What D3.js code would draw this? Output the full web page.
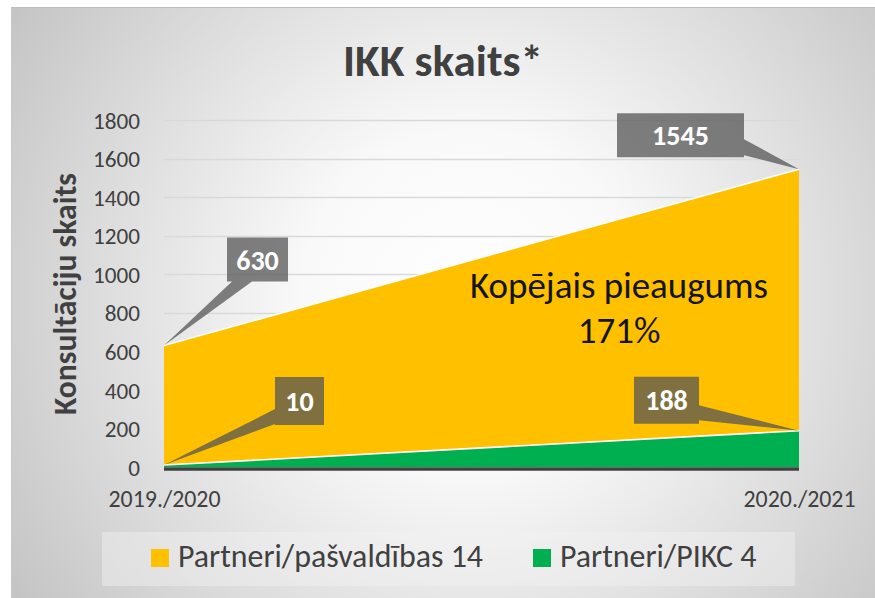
<!DOCTYPE html>
<html>
<head>
<meta charset="utf-8">
<script src="https://cdn.jsdelivr.net/npm/d3@7/dist/d3.min.js"></script>
<style>
  html, body { margin: 0; padding: 0; background: #fff; }
  text { font-family: Carlito, Calibri, Lato, "Open Sans", sans-serif; }
</style>
</head>
<body>
<div id="chart"></div>
<script>
// data
var categories = ["2019./2020", "2020./2021"];
var seriesNames = ["Partneri/pašvaldības 14", "Partneri/PIKC 4"];
var pasvaldibas = [630, 1545];
var pikc = [10, 188];
var yTicks = [0, 200, 400, 600, 800, 1000, 1200, 1400, 1600, 1800];
var chartTitle = "IKK skaits*";
var yTitle = "Konsultāciju skaits";
var noteLines = ["Kopējais pieaugums", "171%"];

var width = 875, height = 598;
var colors = ["#FFC000", "#00B050"];
var fontStack = "Carlito, Calibri, Lato, sans-serif";

var svg = d3.select("#chart").append("svg")
    .attr("width", width)
    .attr("height", height);

// background panel with a soft radial shade
var defs = svg.append("defs");
var grad = defs.append("radialGradient")
    .attr("id", "bg")
    .attr("gradientUnits", "userSpaceOnUse")
    .attr("cx", 470).attr("cy", 300).attr("r", 560);
grad.append("stop").attr("offset", "0%").attr("stop-color", "#ffffff");
grad.append("stop").attr("offset", "30%").attr("stop-color", "#f9f9f9");
grad.append("stop").attr("offset", "100%").attr("stop-color", "#c2c2c2");

svg.append("rect")
    .attr("x", 11).attr("y", 7)
    .attr("width", width - 11).attr("height", height - 7)
    .attr("fill", "url(#bg)");
svg.append("line")
    .attr("x1", 11).attr("x2", width).attr("y1", 7.5).attr("y2", 7.5)
    .attr("stroke", "#bdbdbd");
svg.append("line")
    .attr("x1", 11.5).attr("x2", 11.5).attr("y1", 7).attr("y2", height)
    .attr("stroke", "#c8c8c8");

// shrink or grow a text so that it spans a given width
function fit(sel, w) {
  var size = parseFloat(sel.attr("font-size"));
  var len = sel.node().getComputedTextLength();
  sel.attr("font-size", (size * w / len).toFixed(2) + "px");
  return sel.attr("font-size");
}

var x = d3.scalePoint().domain(categories).range([164, 799]);
var y = d3.scaleLinear().domain([0, 1800]).range([467, 120]);

// title
fit(svg.append("text")
    .attr("x", 443).attr("y", 76)
    .attr("text-anchor", "middle")
    .attr("font-size", "44px")
    .attr("font-weight", "bold")
    .attr("fill", "#404040")
    .text(chartTitle), 200);

// grid
svg.append("g").selectAll("line")
  .data(yTicks.slice(1))
  .enter().append("line")
    .attr("x1", x.range()[0]).attr("x2", x.range()[1])
    .attr("y1", function(d) { return Math.round(y(d)) + 0.5; })
    .attr("y2", function(d) { return Math.round(y(d)) + 0.5; })
    .attr("stroke", "#d9d9d9")
    .attr("stroke-width", 1.3);

// y axis labels
var yAxis = d3.axisLeft(y).tickValues(yTicks).tickFormat(d3.format("d")).tickSize(0).tickPadding(0);
var gy = svg.append("g")
    .attr("transform", "translate(140,0)")
    .call(yAxis);
gy.select(".domain").remove();
gy.selectAll("text")
    .attr("font-size", "23px")
    .attr("fill", "#404040")
    .attr("font-family", fontStack)
    .attr("dy", "0.35em");
var tickSize = fit(gy.selectAll("text").filter(function(d) { return d === 1800; }), 47);
gy.selectAll("text").attr("font-size", tickSize);

// y title
fit(svg.append("text")
    .attr("transform", "translate(76,294) rotate(-90)")
    .attr("text-anchor", "middle")
    .attr("font-size", "26px")
    .attr("font-weight", "bold")
    .attr("fill", "#404040")
    .text(yTitle), 242);

// areas (overlapping, not stacked)
var area = d3.area()
    .x(function(d, i) { return x(categories[i]); })
    .y0(y(0))
    .y1(function(d) { return y(d); });
var topLine = d3.line()
    .x(function(d, i) { return x(categories[i]); })
    .y(function(d) { return y(d); });

[pasvaldibas, pikc].forEach(function(vals, k) {
  svg.append("path")
      .attr("d", area(vals))
      .attr("fill", colors[k]);
  svg.append("path")
      .attr("d", topLine(vals))
      .attr("fill", "none")
      .attr("stroke", "#ffffff")
      .attr("stroke-width", 1.6);
});

// base axis line
svg.append("line")
    .attr("x1", x.range()[0]).attr("x2", x.range()[1])
    .attr("y1", y(0) + 2).attr("y2", y(0) + 2)
    .attr("stroke", "#404040")
    .attr("stroke-width", 3.5);

// x axis labels
var xAxis = d3.axisBottom(x).tickSize(0).tickPadding(0);
var gx = svg.append("g")
    .attr("transform", "translate(0," + (y(0) + 40) + ")")
    .call(xAxis);
gx.select(".domain").remove();
gx.selectAll("text")
    .attr("dy", null)
    .attr("y", 0)
    .attr("font-size", "22px")
    .attr("fill", "#404040")
    .attr("font-family", fontStack);
var xSize = fit(gx.selectAll("text").filter(function(d, i) { return i === 1; }), 112);
gx.selectAll("text").attr("font-size", xSize);

// note inside the orange area
var note = svg.append("g").selectAll("text")
  .data(noteLines)
  .enter().append("text")
    .attr("x", 619)
    .attr("y", function(d, i) { return 298 + i * 45; })
    .attr("text-anchor", "middle")
    .attr("font-size", "30px")
    .attr("fill", "#141414")
    .text(function(d) { return d; });
var noteSize = fit(note.filter(function(d, i) { return i === 0; }), 298);
note.attr("font-size", noteSize);

// callouts: box offset from the point, box size, pointer base (relative to box centre)
var callouts = [
  { vals: pasvaldibas, i: 0, dx: 93.5, dy: -86, w: 61, h: 44, base: [[-25.5, 22], [-5.5, 22]] },
  { vals: pasvaldibas, i: 1, dx: -118.5, dy: -34, w: 127, h: 44, base: [[63.5, 4], [63.5, 20]] },
  { vals: pikc, i: 0, dx: 135.5, dy: -64, w: 49, h: 48, base: [[-24.5, 8], [-24.5, 23]] },
  { vals: pikc, i: 1, dx: -132.5, dy: -30.5, w: 65, h: 47, base: [[32.5, 5], [32.5, 20]] }
];

callouts.forEach(function(c) {
  var px = x(categories[c.i]), py = y(c.vals[c.i]);
  var cx = px + c.dx, cy = py + c.dy;
  var p = d3.path();
  p.rect(cx - c.w / 2, cy - c.h / 2, c.w, c.h);
  p.moveTo(px, py);
  p.lineTo(cx + c.base[0][0], cy + c.base[0][1]);
  p.lineTo(cx + c.base[1][0], cy + c.base[1][1]);
  p.closePath();
  svg.append("path")
      .attr("d", p.toString())
      .attr("fill", "rgb(85,85,85)")
      .attr("fill-opacity", 0.75);
  svg.append("text")
      .attr("x", cx).attr("y", cy)
      .attr("dy", "0.36em")
      .attr("text-anchor", "middle")
      .attr("font-size", "28px")
      .attr("font-weight", "bold")
      .attr("fill", "#ffffff")
      .text(c.vals[c.i]);
});

// legend
svg.append("rect")
    .attr("x", 102).attr("y", 532)
    .attr("width", 693).attr("height", 54)
    .attr("fill", "#f2f2f2")
    .attr("fill-opacity", 0.45);

var legendX = [151, 533];
var leg = svg.append("g").selectAll("g")
  .data(seriesNames)
  .enter().append("g")
    .attr("transform", function(d, i) { return "translate(" + legendX[i] + ",549)"; });
leg.append("rect")
    .attr("width", 18).attr("height", 18)
    .attr("fill", function(d, i) { return colors[i]; });
var legText = leg.append("text")
    .attr("x", 27).attr("y", 18)
    .attr("font-size", "28px")
    .attr("fill", "#404040")
    .text(function(d) { return d; });
var legSize = fit(legText.filter(function(d, i) { return i === 0; }), 305);
legText.attr("font-size", legSize);
</script>
</body>
</html>
